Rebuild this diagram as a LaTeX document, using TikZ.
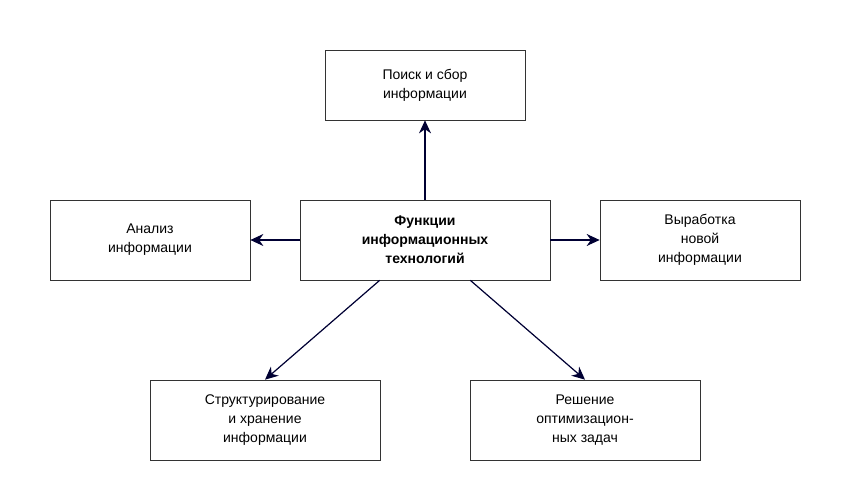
\documentclass[tikz,border=0pt]{standalone}
\usepackage{fontspec}
\setmainfont{Liberation Sans}
\usetikzlibrary{arrows.meta}

\begin{document}
\begin{tikzpicture}[x=1pt,y=-1pt,
    box/.style={draw=black!80,line width=0.7pt,align=center,inner sep=0pt,
      font=\fontsize{14pt}{19pt}\selectfont},
    arr/.style={-{Stealth[length=13pt,width=12pt]},line width=1.2pt,draw=black!80!blue,fill=black!80!blue}]
  \useasboundingbox (0,0) rectangle (850,500);
  \node[box,minimum width=200pt,minimum height=70pt] (poisk) at (425,85) {Поиск и сбор\\информации};
  \node[box,minimum width=200pt,minimum height=80pt] (analiz) at (150,240) {Анализ\\информации};
  \node[box,minimum width=250pt,minimum height=80pt,font=\fontsize{14pt}{19pt}\selectfont\bfseries] (func) at (425,240) {Функции\\информационных\\технологий};
  \node[box,minimum width=200pt,minimum height=80pt] (vyrab) at (700,240) {Выработка\\новой\\информации};
  \node[box,minimum width=230pt,minimum height=80pt] (struct) at (265,420) {Структурирование\\и хранение\\информации};
  \node[box,minimum width=230pt,minimum height=80pt] (resh) at (585,420) {Решение\\оптимизацион-\\ных задач};
  \draw[arr] (func) -- (poisk);
  \draw[arr] (func) -- (analiz);
  \draw[arr] (func) -- (vyrab);
  \draw[arr] (func.south west) ++(80,0) coordinate (a) -- (struct.north);
  \draw[arr] (func.south east) ++(-80,0) coordinate (b) -- (resh.north);
\end{tikzpicture}
\end{document}
